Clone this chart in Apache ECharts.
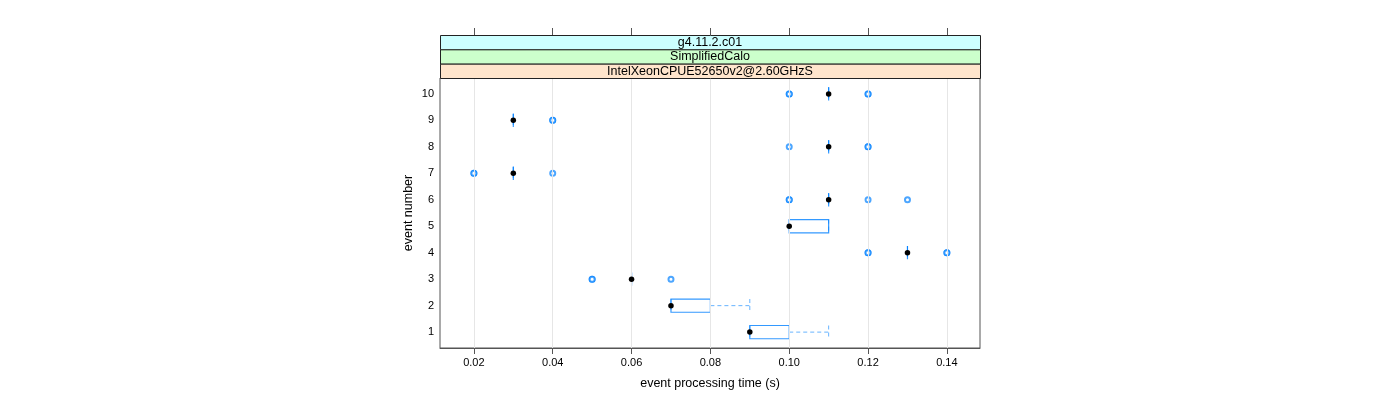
<!DOCTYPE html>
<html>
<head>
<meta charset="utf-8">
<script src="https://cdn.jsdelivr.net/npm/echarts@6/dist/echarts.min.js"></script>
<style>html,body{margin:0;padding:0;background:#fff}#c{width:1400px;height:400px}</style>
</head>
<body>
<div id="c"></div>
<script>
const events = [1, 2, 3, 4, 5, 6, 7, 8, 9, 10];
const q1 = [0.09, 0.07, 0.06, 0.13, 0.10, 0.11, 0.03, 0.11, 0.03, 0.11];
const medians = [0.09, 0.07, 0.06, 0.13, 0.10, 0.11, 0.03, 0.11, 0.03, 0.11];
const q3 = [0.10, 0.08, 0.06, 0.13, 0.11, 0.11, 0.03, 0.11, 0.03, 0.11];
const whiskerLow = [0.09, 0.07, 0.06, 0.13, 0.10, 0.11, 0.03, 0.11, 0.03, 0.11];
const whiskerHigh = [0.11, 0.09, 0.06, 0.13, 0.11, 0.11, 0.03, 0.11, 0.03, 0.11];
// outliers: [event, time] (repeated entries = overlapping runs)
const outliers = [
  [3, 0.05], [3, 0.05], [3, 0.07],
  [4, 0.12], [4, 0.12], [4, 0.14], [4, 0.14],
  [6, 0.10], [6, 0.10], [6, 0.12], [6, 0.13],
  [7, 0.02], [7, 0.02], [7, 0.04],
  [8, 0.10], [8, 0.12], [8, 0.12],
  [9, 0.04], [9, 0.04],
  [10, 0.10], [10, 0.10], [10, 0.12], [10, 0.12]
];
const xTicks = [0.02, 0.04, 0.06, 0.08, 0.10, 0.12, 0.14];
const yTicks = [1, 2, 3, 4, 5, 6, 7, 8, 9, 10];
const strips = ['g4.11.2.c01', 'SimplifiedCalo', 'IntelXeonCPUE52650v2@2.60GHzS'];
const stripColors = ['#ccffff', '#ccffcc', '#ffe5cc'];
const xTitle = 'event processing time (s)';
const yTitle = 'event number';

const FONT = '"Liberation Sans", Arial, sans-serif';
const XMIN = 0.0114, XMAX = 0.1484;
const BLUE = 'rgba(0,128,255,0.8)';
const BLUE_LIGHT = 'rgba(0,128,255,0.6)';

const boxData = events.map((e, i) => [e, q1[i], medians[i], q3[i], whiskerLow[i], whiskerHigh[i]]);
const medData = events.map((e, i) => [medians[i], e]);
const outData = outliers.map(o => [o[1], o[0]]);

function renderBox(params, api) {
  const ev = api.value(0);
  const a = api.value(1), b = api.value(3), lo = api.value(4), hi = api.value(5);
  const h = api.size([0, 1])[1] * 0.5;
  const pA = api.coord([a, ev]);
  const pB = api.coord([b, ev]);
  const pLo = api.coord([lo, ev]);
  const pHi = api.coord([hi, ev]);
  const y = pA[1];
  const children = [];
  const dash = {stroke: BLUE_LIGHT, lineWidth: 1, lineDash: [4, 3], fill: null};
  if (pHi[0] > pB[0] + 0.5) {
    children.push({type: 'line', shape: {x1: pB[0], y1: y, x2: pHi[0], y2: y}, style: dash});
  }
  if (pLo[0] < pA[0] - 0.5) {
    children.push({type: 'line', shape: {x1: pLo[0], y1: y, x2: pA[0], y2: y}, style: dash});
  }
  children.push({type: 'line', shape: {x1: pHi[0], y1: y - h / 2, x2: pHi[0], y2: y + h / 2}, style: dash});
  children.push({type: 'line', shape: {x1: pLo[0], y1: y - h / 2, x2: pLo[0], y2: y + h / 2}, style: dash});
  children.push({type: 'rect', shape: {x: pA[0], y: y - h / 2, width: Math.max(pB[0] - pA[0], 0), height: h},
    style: {stroke: BLUE, lineWidth: 1.2, fill: null}});
  return {type: 'group', children: children};
}

const top0 = 35, stripH = (78 - 35) / 3;
const graphics = [];
strips.forEach((s, i) => {
  const y0 = top0 + i * stripH;
  graphics.push({type: 'rect', left: 440, top: y0, z: 10,
    shape: {width: 540, height: stripH},
    style: {fill: stripColors[i], stroke: '#222', lineWidth: 1}});
  graphics.push({type: 'text', x: 710, y: y0 + stripH / 2 + 0.5, z: 11,
    style: {text: s, font: '12.5px ' + FONT, fill: '#000', textAlign: 'center', textVerticalAlign: 'middle'}});
});

const chart = echarts.init(document.getElementById('c'), null, {renderer: 'canvas'});
chart.setOption({
  animation: false,
  backgroundColor: '#fff',
  textStyle: {fontFamily: FONT},
  grid: {left: 440, right: 420, top: 78, bottom: 52, show: true, borderColor: '#555', borderWidth: 1, backgroundColor: 'transparent'},
  xAxis: [{
    type: 'value', min: XMIN, max: XMAX, position: 'bottom',
    axisLine: {show: true, onZero: false, lineStyle: {color: '#555', width: 1}},
    axisTick: {show: true, customValues: xTicks, length: 6, lineStyle: {color: '#555'}},
    axisLabel: {customValues: xTicks, formatter: v => v.toFixed(2), fontSize: 11, color: '#000', margin: 9, fontFamily: FONT},
    splitLine: {show: false},
    name: xTitle, nameLocation: 'middle', nameGap: 29,
    nameTextStyle: {fontSize: 12.5, color: '#000', fontFamily: FONT}
  }, {
    type: 'value', min: XMIN, max: XMAX, position: 'top', offset: 43,
    axisLine: {show: false},
    axisTick: {show: true, customValues: xTicks, length: 7, lineStyle: {color: '#555'}},
    axisLabel: {show: false},
    splitLine: {show: false}
  }],
  yAxis: {
    type: 'value', min: 0.4, max: 10.6,
    axisLine: {show: false},
    axisTick: {show: false},
    axisLabel: {customValues: yTicks, fontSize: 11, color: '#000', margin: 6, fontFamily: FONT},
    splitLine: {show: false},
    name: yTitle, nameLocation: 'middle', nameGap: 25, nameRotate: 90,
    nameTextStyle: {fontSize: 12.5, color: '#000', fontFamily: FONT}
  },
  graphic: graphics,
  series: [{
    type: 'scatter', data: [], z: 1, silent: true,
    markLine: {silent: true, symbol: 'none', label: {show: false},
      lineStyle: {color: '#e6e6e6', width: 1, type: 'solid'},
      data: xTicks.map(v => ({xAxis: v}))}
  }, {
    type: 'custom', renderItem: renderBox, data: boxData, z: 3, silent: true,
    encode: {x: [1, 3, 4, 5], y: 0}
  }, {
    type: 'scatter', data: outData, z: 4, silent: true,
    symbol: 'emptyCircle', symbolSize: 5,
    itemStyle: {color: 'rgba(0,128,255,0.7)', borderColor: 'rgba(0,128,255,0.7)', borderWidth: 1.5, opacity: 1}
  }, {
    type: 'scatter', data: medData, z: 5, silent: true,
    symbol: 'circle', symbolSize: 5.5,
    itemStyle: {color: '#000', opacity: 1}
  }]
});
</script>
</body>
</html>
